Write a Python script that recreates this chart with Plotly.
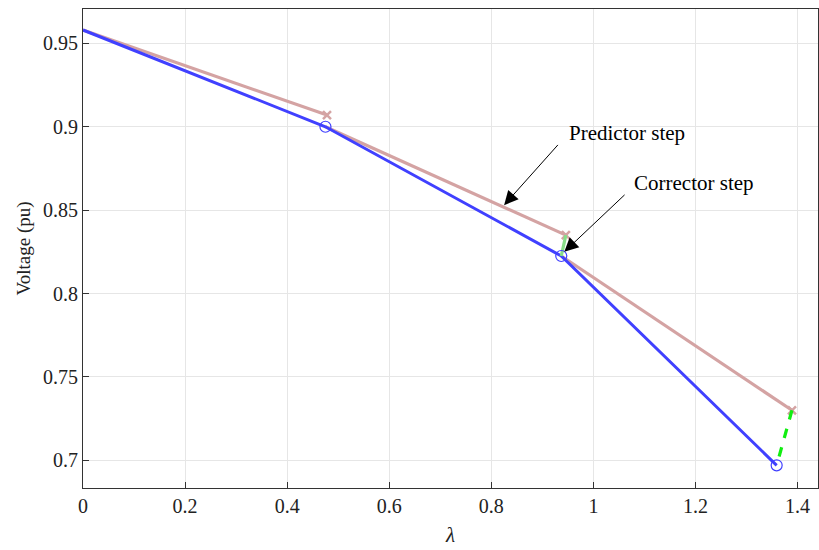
import plotly.graph_objects as go

# Continuation power flow: corrected points and predicted points
lam_corr = [0.0, 0.475, 0.937, 1.359]
v_corr = [0.958, 0.900, 0.8225, 0.697]
lam_pred = [0.478, 0.946, 1.389]
v_pred = [0.907, 0.835, 0.730]

x_ticks = [0, 0.2, 0.4, 0.6, 0.8, 1, 1.2, 1.4]
x_tick_text = ["0", "0.2", "0.4", "0.6", "0.8", "1", "1.2", "1.4"]
y_ticks = [0.7, 0.75, 0.8, 0.85, 0.9, 0.95]
y_tick_text = ["0.7", "0.75", "0.8", "0.85", "0.9", "0.95"]

PINK = "#d4a3a3"
BLUE = "#4040ff"
GREEN = "#11ee11"
FONT = "Liberation Serif"

fig = go.Figure()

# predictor steps: tangent from each corrected point to the predicted point
for i in range(len(lam_pred)):
    fig.add_trace(go.Scatter(
        x=[lam_corr[i], lam_pred[i]], y=[v_corr[i], v_pred[i]],
        mode="lines", line=dict(color=PINK, width=3.2),
        showlegend=False, hoverinfo="skip"))
fig.add_trace(go.Scatter(
    x=lam_pred, y=v_pred, mode="markers",
    marker=dict(symbol="x-thin-open", size=8, color=PINK, line=dict(color=PINK, width=2.5)),
    showlegend=False, hoverinfo="skip"))

# solution curve through corrected points
fig.add_trace(go.Scatter(
    x=lam_corr, y=v_corr, mode="lines", line=dict(color=BLUE, width=3),
    showlegend=False, hoverinfo="skip"))

# corrector steps: from predicted point back onto the curve
fig.add_trace(go.Scatter(
    x=[lam_pred[1], lam_corr[2]], y=[v_pred[1], v_corr[2]],
    mode="lines", line=dict(color="#88dd88", width=3.2),
    showlegend=False, hoverinfo="skip"))
fig.add_trace(go.Scatter(
    x=[lam_pred[2], lam_corr[3]], y=[v_pred[2], v_corr[3]],
    mode="lines", line=dict(color=GREEN, width=3.2, dash="dash"),
    showlegend=False, hoverinfo="skip"))

fig.add_trace(go.Scatter(
    x=lam_corr[1:], y=v_corr[1:], mode="markers",
    marker=dict(symbol="circle-open", size=11, color=BLUE, line=dict(color=BLUE, width=1.2)),
    showlegend=False, hoverinfo="skip"))

fig.add_annotation(
    x=0.825, y=0.853, ax=0.933, ay=0.890, xref="x", yref="y", axref="x", ayref="y",
    showarrow=True, arrowhead=2, arrowsize=2.8, arrowwidth=1, arrowcolor="black", text="")
fig.add_annotation(
    x=0.948, y=0.896, xref="x", yref="y", text="Predictor step", showarrow=False,
    xanchor="left", yanchor="middle", font=dict(family=FONT, size=21, color="black"))
fig.add_annotation(
    x=0.943, y=0.825, ax=1.064, ay=0.860, xref="x", yref="y", axref="x", ayref="y",
    showarrow=True, arrowhead=2, arrowsize=2.8, arrowwidth=1, arrowcolor="black", text="")
fig.add_annotation(
    x=1.076, y=0.8665, xref="x", yref="y", text="Corrector step", showarrow=False,
    xanchor="left", yanchor="middle", font=dict(family=FONT, size=21, color="black"))

fig.update_layout(
    width=819, height=550, margin=dict(l=83, r=1, t=9, b=62),
    font=dict(family=FONT, size=20, color="#222222"),
    plot_bgcolor="white", paper_bgcolor="white", showlegend=False,
    xaxis=dict(
        range=[0, 1.44], tickmode="array", tickvals=x_ticks, ticktext=x_tick_text,
        showgrid=True, gridcolor="#e6e6e6", gridwidth=1,
        showline=True, linecolor="#333333", linewidth=1, mirror=True,
        ticks="inside", ticklen=6, tickcolor="#333333", zeroline=False,
        tickfont=dict(family=FONT, size=20, color="#222222"),
        title=dict(text="<i>λ</i>", font=dict(family=FONT, size=21, color="#222222"), standoff=11),
    ),
    yaxis=dict(
        range=[0.6834, 0.9706], tickmode="array", tickvals=y_ticks, ticktext=y_tick_text,
        showgrid=True, gridcolor="#e6e6e6", gridwidth=1,
        showline=True, linecolor="#333333", linewidth=1, mirror=True,
        ticks="inside", ticklen=6, tickcolor="#333333", zeroline=False,
        tickfont=dict(family=FONT, size=20, color="#222222"),
        title=dict(text="Voltage (pu)", font=dict(family=FONT, size=19, color="#222222"), standoff=7),
    ),
)

fig.write_html("out.html")
